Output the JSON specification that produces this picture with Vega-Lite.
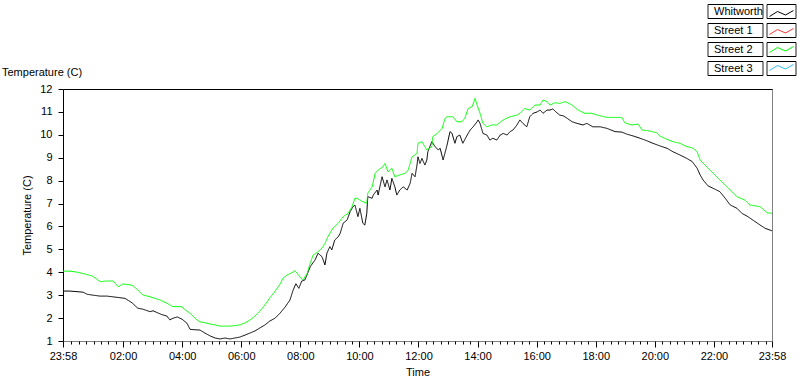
{
  "$schema": "https://vega.github.io/schema/vega-lite/v6.json",
  "width": 709,
  "height": 252,
  "autosize": {"type": "none"},
  "padding": {"left": 63, "top": 89, "right": 28, "bottom": 39},
  "background": "white",
  "title": {"text": "Temperature (C)", "anchor": "start", "frame": "group", "dx": -61, "dy": 84, "offset": 12, "fontSize": 11, "fontWeight": "normal", "font": "Liberation Sans", "color": "black"},
  "data": {"values": [
    {"t":0,"s":"Whitworth","v":3.18},{"t":14,"s":"Whitworth","v":3.18},{"t":41,"s":"Whitworth","v":3.13},{"t":49,"s":"Whitworth","v":3.04},{"t":61,"s":"Whitworth","v":3.0},{"t":75,"s":"Whitworth","v":2.96},{"t":89,"s":"Whitworth","v":2.96},{"t":112,"s":"Whitworth","v":2.9},{"t":126,"s":"Whitworth","v":2.86},{"t":140,"s":"Whitworth","v":2.67},{"t":152,"s":"Whitworth","v":2.43},{"t":162,"s":"Whitworth","v":2.39},{"t":177,"s":"Whitworth","v":2.28},{"t":183,"s":"Whitworth","v":2.32},{"t":191,"s":"Whitworth","v":2.24},{"t":201,"s":"Whitworth","v":2.15},{"t":211,"s":"Whitworth","v":2.09},{"t":217,"s":"Whitworth","v":1.92},{"t":223,"s":"Whitworth","v":1.99},{"t":232,"s":"Whitworth","v":2.05},{"t":242,"s":"Whitworth","v":1.95},{"t":252,"s":"Whitworth","v":1.77},{"t":258,"s":"Whitworth","v":1.51},{"t":268,"s":"Whitworth","v":1.49},{"t":278,"s":"Whitworth","v":1.48},{"t":288,"s":"Whitworth","v":1.35},{"t":299,"s":"Whitworth","v":1.22},{"t":309,"s":"Whitworth","v":1.13},{"t":319,"s":"Whitworth","v":1.09},{"t":329,"s":"Whitworth","v":1.13},{"t":339,"s":"Whitworth","v":1.09},{"t":349,"s":"Whitworth","v":1.13},{"t":359,"s":"Whitworth","v":1.17},{"t":370,"s":"Whitworth","v":1.26},{"t":380,"s":"Whitworth","v":1.35},{"t":390,"s":"Whitworth","v":1.44},{"t":400,"s":"Whitworth","v":1.57},{"t":410,"s":"Whitworth","v":1.7},{"t":420,"s":"Whitworth","v":1.87},{"t":431,"s":"Whitworth","v":2.0},{"t":441,"s":"Whitworth","v":2.22},{"t":451,"s":"Whitworth","v":2.48},{"t":461,"s":"Whitworth","v":2.79},{"t":467,"s":"Whitworth","v":3.2},{"t":473,"s":"Whitworth","v":3.5},{"t":479,"s":"Whitworth","v":3.3},{"t":485,"s":"Whitworth","v":3.62},{"t":491,"s":"Whitworth","v":3.66},{"t":494,"s":"Whitworth","v":3.8},{"t":502,"s":"Whitworth","v":4.24},{"t":512,"s":"Whitworth","v":4.54},{"t":518,"s":"Whitworth","v":4.83},{"t":526,"s":"Whitworth","v":4.68},{"t":532,"s":"Whitworth","v":4.32},{"t":536,"s":"Whitworth","v":4.83},{"t":542,"s":"Whitworth","v":5.12},{"t":546,"s":"Whitworth","v":4.98},{"t":552,"s":"Whitworth","v":5.41},{"t":559,"s":"Whitworth","v":5.55},{"t":563,"s":"Whitworth","v":5.7},{"t":569,"s":"Whitworth","v":6.14},{"t":577,"s":"Whitworth","v":6.28},{"t":583,"s":"Whitworth","v":6.64},{"t":589,"s":"Whitworth","v":6.86},{"t":593,"s":"Whitworth","v":6.93},{"t":599,"s":"Whitworth","v":6.43},{"t":603,"s":"Whitworth","v":6.79},{"t":609,"s":"Whitworth","v":6.14},{"t":613,"s":"Whitworth","v":6.06},{"t":617,"s":"Whitworth","v":6.57},{"t":619,"s":"Whitworth","v":7.3},{"t":628,"s":"Whitworth","v":7.23},{"t":630,"s":"Whitworth","v":7.37},{"t":638,"s":"Whitworth","v":7.59},{"t":640,"s":"Whitworth","v":7.37},{"t":648,"s":"Whitworth","v":8.17},{"t":654,"s":"Whitworth","v":7.73},{"t":658,"s":"Whitworth","v":8.03},{"t":664,"s":"Whitworth","v":7.59},{"t":668,"s":"Whitworth","v":8.1},{"t":674,"s":"Whitworth","v":7.73},{"t":678,"s":"Whitworth","v":7.37},{"t":684,"s":"Whitworth","v":7.59},{"t":691,"s":"Whitworth","v":7.73},{"t":699,"s":"Whitworth","v":7.59},{"t":705,"s":"Whitworth","v":7.88},{"t":709,"s":"Whitworth","v":8.32},{"t":715,"s":"Whitworth","v":8.17},{"t":719,"s":"Whitworth","v":8.68},{"t":721,"s":"Whitworth","v":9.04},{"t":725,"s":"Whitworth","v":8.75},{"t":729,"s":"Whitworth","v":8.97},{"t":735,"s":"Whitworth","v":8.68},{"t":739,"s":"Whitworth","v":8.9},{"t":741,"s":"Whitworth","v":9.26},{"t":749,"s":"Whitworth","v":9.7},{"t":756,"s":"Whitworth","v":9.48},{"t":762,"s":"Whitworth","v":9.34},{"t":766,"s":"Whitworth","v":9.41},{"t":772,"s":"Whitworth","v":8.9},{"t":780,"s":"Whitworth","v":9.55},{"t":786,"s":"Whitworth","v":10.14},{"t":790,"s":"Whitworth","v":10.07},{"t":796,"s":"Whitworth","v":9.63},{"t":800,"s":"Whitworth","v":9.92},{"t":806,"s":"Whitworth","v":9.99},{"t":812,"s":"Whitworth","v":9.63},{"t":821,"s":"Whitworth","v":9.99},{"t":827,"s":"Whitworth","v":10.21},{"t":833,"s":"Whitworth","v":10.35},{"t":841,"s":"Whitworth","v":10.57},{"t":843,"s":"Whitworth","v":10.65},{"t":847,"s":"Whitworth","v":10.5},{"t":853,"s":"Whitworth","v":10.06},{"t":861,"s":"Whitworth","v":9.99},{"t":867,"s":"Whitworth","v":9.77},{"t":873,"s":"Whitworth","v":9.85},{"t":881,"s":"Whitworth","v":9.77},{"t":888,"s":"Whitworth","v":9.99},{"t":894,"s":"Whitworth","v":10.06},{"t":902,"s":"Whitworth","v":9.99},{"t":908,"s":"Whitworth","v":10.14},{"t":914,"s":"Whitworth","v":10.21},{"t":922,"s":"Whitworth","v":10.43},{"t":928,"s":"Whitworth","v":10.65},{"t":934,"s":"Whitworth","v":10.5},{"t":942,"s":"Whitworth","v":10.35},{"t":948,"s":"Whitworth","v":10.79},{"t":955,"s":"Whitworth","v":10.94},{"t":963,"s":"Whitworth","v":11.0},{"t":969,"s":"Whitworth","v":11.08},{"t":975,"s":"Whitworth","v":10.94},{"t":983,"s":"Whitworth","v":11.08},{"t":989,"s":"Whitworth","v":11.08},{"t":995,"s":"Whitworth","v":11.13},{"t":1001,"s":"Whitworth","v":11.0},{"t":1009,"s":"Whitworth","v":10.86},{"t":1016,"s":"Whitworth","v":10.83},{"t":1024,"s":"Whitworth","v":10.72},{"t":1034,"s":"Whitworth","v":10.57},{"t":1044,"s":"Whitworth","v":10.5},{"t":1056,"s":"Whitworth","v":10.43},{"t":1064,"s":"Whitworth","v":10.5},{"t":1076,"s":"Whitworth","v":10.35},{"t":1091,"s":"Whitworth","v":10.35},{"t":1105,"s":"Whitworth","v":10.28},{"t":1121,"s":"Whitworth","v":10.14},{"t":1135,"s":"Whitworth","v":10.12},{"t":1145,"s":"Whitworth","v":10.03},{"t":1158,"s":"Whitworth","v":9.95},{"t":1172,"s":"Whitworth","v":9.85},{"t":1186,"s":"Whitworth","v":9.74},{"t":1198,"s":"Whitworth","v":9.63},{"t":1212,"s":"Whitworth","v":9.52},{"t":1227,"s":"Whitworth","v":9.41},{"t":1239,"s":"Whitworth","v":9.26},{"t":1253,"s":"Whitworth","v":9.12},{"t":1267,"s":"Whitworth","v":8.97},{"t":1278,"s":"Whitworth","v":8.83},{"t":1288,"s":"Whitworth","v":8.54},{"t":1294,"s":"Whitworth","v":8.25},{"t":1300,"s":"Whitworth","v":8.03},{"t":1310,"s":"Whitworth","v":7.77},{"t":1320,"s":"Whitworth","v":7.67},{"t":1334,"s":"Whitworth","v":7.52},{"t":1345,"s":"Whitworth","v":7.23},{"t":1355,"s":"Whitworth","v":6.94},{"t":1369,"s":"Whitworth","v":6.79},{"t":1379,"s":"Whitworth","v":6.57},{"t":1391,"s":"Whitworth","v":6.43},{"t":1401,"s":"Whitworth","v":6.28},{"t":1416,"s":"Whitworth","v":6.06},{"t":1426,"s":"Whitworth","v":5.92},{"t":1436,"s":"Whitworth","v":5.84},{"t":1440,"s":"Whitworth","v":5.81},
    {"t":0,"s":"Street 2","v":4.05},{"t":14,"s":"Street 2","v":4.05},{"t":30,"s":"Street 2","v":4.0},{"t":45,"s":"Street 2","v":3.92},{"t":59,"s":"Street 2","v":3.84},{"t":69,"s":"Street 2","v":3.7},{"t":75,"s":"Street 2","v":3.59},{"t":89,"s":"Street 2","v":3.62},{"t":102,"s":"Street 2","v":3.62},{"t":112,"s":"Street 2","v":3.37},{"t":122,"s":"Street 2","v":3.49},{"t":140,"s":"Street 2","v":3.44},{"t":152,"s":"Street 2","v":3.23},{"t":162,"s":"Street 2","v":3.01},{"t":177,"s":"Street 2","v":2.93},{"t":197,"s":"Street 2","v":2.79},{"t":211,"s":"Street 2","v":2.65},{"t":223,"s":"Street 2","v":2.5},{"t":242,"s":"Street 2","v":2.5},{"t":244,"s":"Street 2","v":2.43},{"t":258,"s":"Street 2","v":2.21},{"t":272,"s":"Street 2","v":1.92},{"t":278,"s":"Street 2","v":1.84},{"t":288,"s":"Street 2","v":1.8},{"t":299,"s":"Street 2","v":1.74},{"t":309,"s":"Street 2","v":1.7},{"t":319,"s":"Street 2","v":1.65},{"t":339,"s":"Street 2","v":1.65},{"t":359,"s":"Street 2","v":1.7},{"t":370,"s":"Street 2","v":1.79},{"t":380,"s":"Street 2","v":1.92},{"t":390,"s":"Street 2","v":2.09},{"t":400,"s":"Street 2","v":2.31},{"t":410,"s":"Street 2","v":2.57},{"t":420,"s":"Street 2","v":2.88},{"t":431,"s":"Street 2","v":3.18},{"t":441,"s":"Street 2","v":3.49},{"t":447,"s":"Street 2","v":3.74},{"t":455,"s":"Street 2","v":3.88},{"t":465,"s":"Street 2","v":3.98},{"t":471,"s":"Street 2","v":4.07},{"t":481,"s":"Street 2","v":3.81},{"t":487,"s":"Street 2","v":3.66},{"t":496,"s":"Street 2","v":3.95},{"t":502,"s":"Street 2","v":4.39},{"t":508,"s":"Street 2","v":4.75},{"t":518,"s":"Street 2","v":4.9},{"t":526,"s":"Street 2","v":5.05},{"t":532,"s":"Street 2","v":5.26},{"t":538,"s":"Street 2","v":5.55},{"t":548,"s":"Street 2","v":5.92},{"t":559,"s":"Street 2","v":6.14},{"t":569,"s":"Street 2","v":6.43},{"t":579,"s":"Street 2","v":6.57},{"t":587,"s":"Street 2","v":6.86},{"t":593,"s":"Street 2","v":7.23},{"t":597,"s":"Street 2","v":7.23},{"t":609,"s":"Street 2","v":7.08},{"t":617,"s":"Street 2","v":7.01},{"t":619,"s":"Street 2","v":7.45},{"t":628,"s":"Street 2","v":7.73},{"t":634,"s":"Street 2","v":8.32},{"t":640,"s":"Street 2","v":8.46},{"t":650,"s":"Street 2","v":8.61},{"t":654,"s":"Street 2","v":8.75},{"t":660,"s":"Street 2","v":8.39},{"t":668,"s":"Street 2","v":8.54},{"t":674,"s":"Street 2","v":8.17},{"t":684,"s":"Street 2","v":8.25},{"t":695,"s":"Street 2","v":8.32},{"t":701,"s":"Street 2","v":8.46},{"t":709,"s":"Street 2","v":9.04},{"t":719,"s":"Street 2","v":9.19},{"t":721,"s":"Street 2","v":9.63},{"t":729,"s":"Street 2","v":9.7},{"t":739,"s":"Street 2","v":9.34},{"t":749,"s":"Street 2","v":9.48},{"t":751,"s":"Street 2","v":9.92},{"t":760,"s":"Street 2","v":10.06},{"t":770,"s":"Street 2","v":10.28},{"t":776,"s":"Street 2","v":10.72},{"t":780,"s":"Street 2","v":10.79},{"t":792,"s":"Street 2","v":10.79},{"t":800,"s":"Street 2","v":10.57},{"t":810,"s":"Street 2","v":10.57},{"t":816,"s":"Street 2","v":10.72},{"t":823,"s":"Street 2","v":11.15},{"t":831,"s":"Street 2","v":11.23},{"t":837,"s":"Street 2","v":11.59},{"t":841,"s":"Street 2","v":11.3},{"t":847,"s":"Street 2","v":10.94},{"t":853,"s":"Street 2","v":10.5},{"t":861,"s":"Street 2","v":10.35},{"t":871,"s":"Street 2","v":10.43},{"t":881,"s":"Street 2","v":10.43},{"t":894,"s":"Street 2","v":10.65},{"t":908,"s":"Street 2","v":10.79},{"t":922,"s":"Street 2","v":10.86},{"t":928,"s":"Street 2","v":10.94},{"t":938,"s":"Street 2","v":11.15},{"t":948,"s":"Street 2","v":11.08},{"t":959,"s":"Street 2","v":11.3},{"t":969,"s":"Street 2","v":11.3},{"t":975,"s":"Street 2","v":11.52},{"t":983,"s":"Street 2","v":11.45},{"t":989,"s":"Street 2","v":11.3},{"t":999,"s":"Street 2","v":11.4},{"t":1009,"s":"Street 2","v":11.37},{"t":1020,"s":"Street 2","v":11.45},{"t":1034,"s":"Street 2","v":11.3},{"t":1046,"s":"Street 2","v":11.08},{"t":1060,"s":"Street 2","v":10.94},{"t":1074,"s":"Street 2","v":10.94},{"t":1085,"s":"Street 2","v":10.86},{"t":1105,"s":"Street 2","v":10.76},{"t":1135,"s":"Street 2","v":10.76},{"t":1141,"s":"Street 2","v":10.53},{"t":1155,"s":"Street 2","v":10.43},{"t":1168,"s":"Street 2","v":10.47},{"t":1176,"s":"Street 2","v":10.21},{"t":1188,"s":"Street 2","v":10.18},{"t":1206,"s":"Street 2","v":10.09},{"t":1212,"s":"Street 2","v":9.95},{"t":1227,"s":"Street 2","v":9.8},{"t":1239,"s":"Street 2","v":9.7},{"t":1253,"s":"Street 2","v":9.63},{"t":1263,"s":"Street 2","v":9.52},{"t":1280,"s":"Street 2","v":9.41},{"t":1288,"s":"Street 2","v":9.26},{"t":1294,"s":"Street 2","v":8.9},{"t":1304,"s":"Street 2","v":8.68},{"t":1314,"s":"Street 2","v":8.46},{"t":1324,"s":"Street 2","v":8.25},{"t":1334,"s":"Street 2","v":8.03},{"t":1345,"s":"Street 2","v":7.81},{"t":1355,"s":"Street 2","v":7.59},{"t":1369,"s":"Street 2","v":7.3},{"t":1385,"s":"Street 2","v":7.15},{"t":1395,"s":"Street 2","v":6.94},{"t":1416,"s":"Street 2","v":6.86},{"t":1430,"s":"Street 2","v":6.6},{"t":1440,"s":"Street 2","v":6.57}
  ]},
  "layer": [
    {
      "mark": {"type": "line", "strokeWidth": 1},
      "encoding": {
        "x": {"field": "t", "type": "quantitative",
          "scale": {"domain": [0, 1440], "nice": false, "zero": false},
          "axis": {"orient": "bottom", "title": "Time", "domain": false, "grid": false,
            "values": [0,17,32,47,62,77,92,107,122,137,152,167,182,197,212,227,242,257,272,287,302,317,332,347,362,377,392,407,422,437,452,467,482,497,512,527,542,557,572,587,602,617,632,647,662,677,692,707,722,737,752,767,782,797,812,827,842,857,872,887,902,917,932,947,962,977,992,1007,1022,1037,1052,1067,1082,1097,1112,1127,1142,1157,1172,1187,1202,1217,1232,1247,1262,1277,1292,1307,1322,1337,1352,1367,1382,1397,1412,1427,1440],
            "labelExpr": "(datum.value == 0 || datum.value == 1440 || (datum.value - 2) % 120 == 0) ? utcFormat(86280000 + datum.value * 60000, '%H:%M') : ''",
            "tickSize": {"condition": {"test": "datum.value == 0 || datum.value == 1440 || (datum.value - 2) % 120 == 0", "value": 6}, "value": 3},
            "labelOverlap": false, "labelFlush": false, "labelBound": false,
            "labelPadding": 3, "titlePadding": 5}},
        "y": {"field": "v", "type": "quantitative",
          "scale": {"domain": [1, 12], "nice": false, "zero": false},
          "axis": {"values": [1,2,3,4,5,6,7,8,9,10,11,12], "title": "Temperature (C)", "grid": false,
            "labelOverlap": false, "labelFlush": false,
            "domainColor": "black", "tickSize": 5, "labelPadding": 6, "titlePadding": 7}},
        "color": {"field": "s", "type": "nominal",
          "scale": {"domain": ["Whitworth", "Street 1", "Street 2", "Street 3"], "range": ["#000000", "#ff3333", "#00ff00", "#33bbff"]},
          "legend": {"orient": "none", "legendX": 713, "legendY": -81, "title": null,
            "symbolType": "M-12,3L-4,-2L4,1.5L12,-3", "symbolSize": 4, "symbolStrokeWidth": 1,
            "symbolFillColor": "transparent", "labelExpr": "''", "rowPadding": 6, "padding": 0}},
        "strokeDash": {"field": "s", "type": "nominal",
          "scale": {"domain": ["Street 3", "Street 2", "Street 1", "Whitworth"], "range": [[1, 0], [1, 0], [1, 0], [1, 0]]},
          "legend": {"orient": "none", "legendX": 640, "legendY": -83, "title": null,
            "values": ["Whitworth", "Street 1", "Street 2", "Street 3"],
            "symbolType": "M-0.5,-7H54.5V7H-0.5Z M58.5,-7H87.5V7H58.5Z", "symbolSize": 4, "symbolStrokeWidth": 1,
            "symbolStrokeColor": "black", "symbolFillColor": "transparent",
            "labelOffset": 0, "rowPadding": 0, "padding": 0,
            "encode": {"symbols": {"update": {"stroke": {"value": "black"}, "fill": {"value": "transparent"}}}}}}
      }
    },
    {
      "mark": {"type": "line", "opacity": 0},
      "encoding": {
        "x": {"field": "t", "type": "quantitative",
          "axis": {"orient": "top", "title": null, "labels": false, "ticks": false, "grid": false, "domainColor": "black"}},
        "y": {"field": "v", "type": "quantitative",
          "axis": {"values": [1,2,3,4,5,6,7,8,9,10,11,12], "title": "Temperature (C)", "grid": false,
            "labelOverlap": false, "labelFlush": false,
            "domainColor": "black", "tickSize": 5, "labelPadding": 6, "titlePadding": 7}}
      }
    }
  ],
  "resolve": {"axis": {"x": "independent"}},
  "config": {
    "font": "Liberation Sans",
    "view": {"stroke": "#808080", "strokeWidth": 1},
    "axis": {"labelFont": "Liberation Sans", "titleFont": "Liberation Sans", "labelFontSize": 11, "titleFontSize": 11,
      "titleFontWeight": "normal", "labelColor": "black", "titleColor": "black", "tickColor": "black", "domainColor": "black"},
    "legend": {"labelFont": "Liberation Sans", "labelFontSize": 11, "labelColor": "black"}
  }
}
